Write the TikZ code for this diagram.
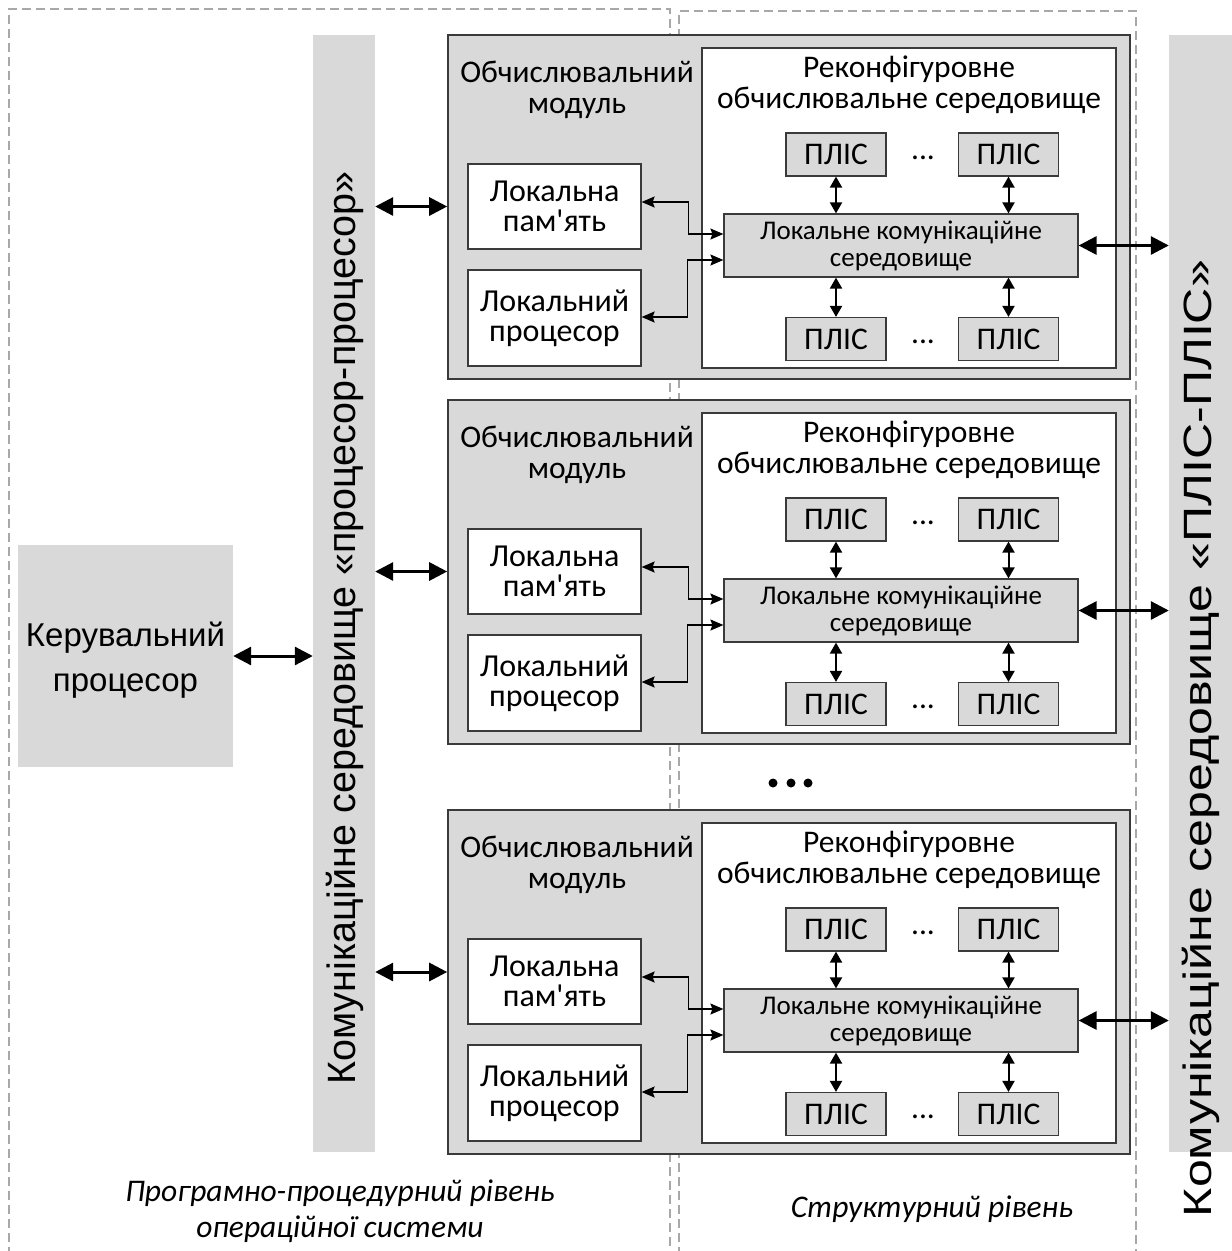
\documentclass[tikz,border=0pt]{standalone}
\usepackage{fontspec}
\setmainfont{Carlito}
\newfontfamily\arialf{Liberation Sans}
\usetikzlibrary{arrows.meta}
\definecolor{boxgray}{HTML}{D9D9D9}
\definecolor{dashgray}{HTML}{A8A8A8}
\definecolor{edge}{HTML}{3A3A3A}

\tikzset{
  region/.style={draw=dashgray, line width=1.2pt, dash pattern=on 9pt off 5pt},
  bar/.style={fill=boxgray, draw=none, inner sep=0pt},
  modbox/.style={fill=boxgray, draw=edge, line width=1.6pt, inner sep=0pt},
  fpgaenv/.style={fill=white, draw=edge, line width=1.3pt, inner sep=0pt},
  unitbox/.style={fill=white, draw=edge, line width=1.2pt, inner sep=0pt, align=center,
    font=\fontsize{32}{30}\selectfont},
  chipbox/.style={fill=boxgray, draw=edge, line width=1.2pt, inner sep=0pt,
    minimum width=100pt, minimum height=43pt, font=\fontsize{31.5}{31}\selectfont},
  lcebox/.style={fill=boxgray, draw=edge, line width=1.2pt, inner sep=0pt, align=center,
    minimum width=354pt, minimum height=63pt, font=\fontsize{27}{27}\selectfont},
  captext/.style={align=center, font=\fontsize{31.5}{31}\selectfont},
  dotstext/.style={font=\fontsize{31.5}{31}\selectfont},
  bigarrow/.style={line width=3pt, {Triangle[length=18pt,width=18pt]}-{Triangle[length=18pt,width=18pt]}},
  midarrow/.style={line width=2pt, {Triangle[length=11pt,width=12pt]}-{Triangle[length=11pt,width=12pt]}},
  thinarrow/.style={line width=1.6pt, {Stealth[length=13pt,width=11pt,inset=2pt]}-{Stealth[length=13pt,width=11pt,inset=2pt]}},
  leveltext/.style={align=center, font=\fontsize{31.5}{36}\selectfont\itshape},
  bartext/.style={rotate=90, font=\arialf\fontsize{39.5}{40}\selectfont},
}

% one computing module: #1 name prefix, #2 vertical offset
\newcommand\compmodule[2]{%
  \begin{scope}[shift={(0,#2)}]
    \node[modbox, minimum width=682pt, minimum height=344pt] (#1mod) at (789,207) {};
    \node[fpgaenv, minimum width=414pt, minimum height=320pt] (#1env) at (909,208) {};
    \node[captext] (#1modcap) at (577,90) {Обчислювальний\\модуль};
    \node[captext] (#1envcap) at (909,85) {Реконфігуровне\\обчислювальне середовище};
    \node[unitbox, minimum width=173pt, minimum height=85pt] (#1mem) at (554.5,206.5) {Локальна\\пам\textquotesingle ять};
    \node[unitbox, minimum width=173pt, minimum height=96pt] (#1cpu) at (554.5,318) {Локальний\\процесор};
    \node[lcebox] (#1lce) at (901,245.5) {Локальне комунікаційне\\середовище};
    \node[chipbox] (#1fa) at (836,154.5) {ПЛІС};
    \node[chipbox] (#1fb) at (1008.5,154.5) {ПЛІС};
    \node[chipbox] (#1fc) at (836,339) {ПЛІС};
    \node[chipbox] (#1fd) at (1008.5,339) {ПЛІС};
    \node[dotstext] (#1dotsa) at (923,158) {...};
    \node[dotstext] (#1dotsb) at (923,342) {...};
    \draw[midarrow] (#1fa) -- (#1fa |- #1lce.north);
    \draw[midarrow] (#1fb) -- (#1fb |- #1lce.north);
    \draw[midarrow] (#1fc) -- (#1fc |- #1lce.south);
    \draw[midarrow] (#1fd) -- (#1fd |- #1lce.south);
    \draw[thinarrow] ([yshift=4.5pt]#1mem.east) -- ++(47,0) |- ([yshift=11.5pt]#1lce.west);
    \draw[thinarrow] ([yshift=1pt]#1cpu.east) -- ++(46,0) |- ([yshift=-14.5pt]#1lce.west);
  \end{scope}}

\begin{document}
\begin{tikzpicture}[x=1pt,y=-1pt]
  \useasboundingbox (0,0) rectangle (1232,1251);

  % software level and structural level regions
  \draw[region] (9,1256) -- (9,9) -- (670,9) -- (670,1256);
  \draw[region] (679,1256) -- (679,11) -- (1136,11) -- (1136,1256);

  % communication media bars
  \node[bar, minimum width=62pt, minimum height=1117pt] (ppbar) at (344,593.5) {};
  \node[bar, minimum width=64pt, minimum height=1117pt] (ffbar) at (1201,593.5) {};
  \node[bartext] (ppcap) at (345,628) {Комунікаційне середовище «процесор-процесор»};
  \node[bartext, xscale=1.27] (ffcap) at (1201,738.5) {Комунікаційне середовище «ПЛІС-ПЛІС»};

  % control processor
  \node[bar, minimum width=215pt, minimum height=222pt] (ctrl) at (125.5,656) {};
  \node[align=center, font=\arialf\fontsize{33}{45}\selectfont] (ctrlcap) at (125.5,660)
    {Керувальний\\процесор};
  \draw[bigarrow] (ctrl.east) -- (ppbar.west |- ctrl.east);

  % computing modules
  \compmodule{a}{0}
  \compmodule{b}{365}
  \compmodule{c}{775}

  \draw[bigarrow] (ppbar.east |- amem.center) -- (amod.west |- amem.center);
  \draw[bigarrow] (ppbar.east |- bmem.center) -- (bmod.west |- bmem.center);
  \draw[bigarrow] ([yshift=9.5pt]ppbar.east |- cmem.center) -- ([yshift=9.5pt]cmod.west |- cmem.center);
  \draw[bigarrow] (alce.east) -- (ffbar.west |- alce.east);
  \draw[bigarrow] (blce.east) -- (ffbar.west |- blce.east);
  \draw[bigarrow] (clce.east) -- (ffbar.west |- clce.east);

  % ellipsis between modules
  \fill (773,783) circle (4.5) (791,783) circle (4.5) (808,783) circle (4.5);

  % level captions
  \node[leveltext] (swlevel) at (340,1211) {Програмно-процедурний рівень\\операційної системи};
  \node[leveltext] (hwlevel) at (932,1209) {Структурний рівень};
\end{tikzpicture}
\end{document}
